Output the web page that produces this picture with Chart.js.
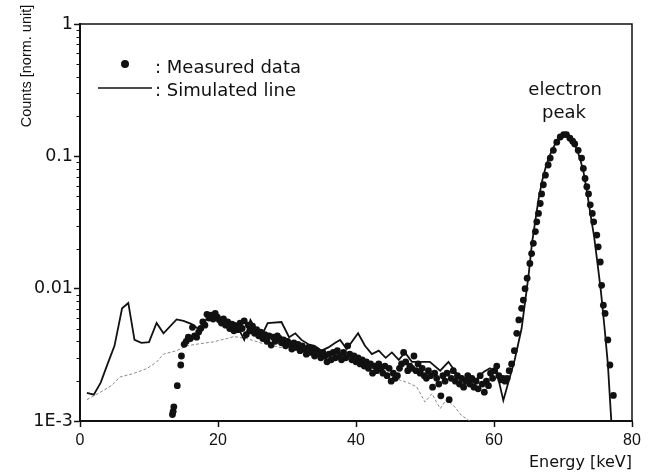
<!DOCTYPE html>
<html>
<head>
<meta charset="utf-8">
<script src="https://cdn.jsdelivr.net/npm/chart.js@4.4.1/dist/chart.umd.min.js"></script>
<style>
html,body{margin:0;padding:0;background:#fff;}
canvas{display:block;}
</style>
</head>
<body>
<canvas id="c" width="648" height="472"></canvas>
<script>
// ---- data ----
const measuredEnergy = [
13.4,13.5,13.6,14.1,14.6,14.7,15.1,15.4,15.7,16.0,16.3,16.6,16.9,17.2,17.5,17.8,18.1,18.4,18.7,19.0,
19.3,19.6,19.9,20.2,20.5,20.8,21.1,21.4,21.7,22.0,22.3,22.6,22.9,23.2,23.5,23.8,24.1,24.4,24.7,25.0,
25.3,25.6,25.9,26.2,26.5,26.8,27.1,27.4,27.7,28.0,28.3,28.6,28.9,29.2,29.5,29.8,30.1,30.4,30.7,31.0,
31.3,31.6,31.9,32.2,32.5,32.8,33.1,33.4,33.7,34.0,34.3,34.6,34.9,35.2,35.5,35.8,36.1,36.4,36.7,37.0,
37.3,37.6,37.9,38.2,38.5,38.8,39.1,39.4,39.7,40.0,40.3,40.6,40.9,41.2,41.5,41.8,42.1,42.4,42.7,43.0,
43.3,43.6,43.9,44.2,44.5,44.8,45.1,45.4,45.7,46.0,46.3,46.6,46.9,47.2,47.5,47.8,48.1,48.4,48.7,49.0,
49.3,49.6,49.9,50.2,50.5,50.8,51.1,51.4,51.7,52.0,52.3,52.6,52.9,53.2,53.5,53.8,54.1,54.4,54.7,55.0,
55.3,55.6,55.9,56.2,56.5,56.8,57.1,57.4,57.7,58.0,58.3,58.6,58.9,59.2,59.5,59.8,60.1,60.4,60.7,61.0,
61.3,61.6,61.9,62.2,62.55,62.95,63.3,63.6,64.0,64.25,64.5,64.8,65.2,65.45,65.7,66.0,66.2,66.45,66.7,66.9,
67.15,67.45,67.85,68.15,68.6,69.1,69.6,70.1,70.5,71.0,71.4,71.7,72.2,72.7,72.95,73.2,73.45,73.7,73.95,74.25,
74.45,74.9,75.1,75.4,75.6,75.85,76.1,76.5,76.8,77.3
];
const measuredCounts = [
1.12e-3,1.18e-3,1.28e-3,1.85e-3,2.65e-3,3.1e-3,3.8e-3,4.0e-3,4.3e-3,4.2e-3,5.1e-3,4.4e-3,4.3e-3,4.7e-3,5.0e-3,5.6e-3,5.3e-3,6.4e-3,6.0e-3,6.3e-3,
5.9e-3,6.5e-3,6.1e-3,5.8e-3,5.5e-3,5.9e-3,5.3e-3,5.6e-3,5.0e-3,5.4e-3,4.8e-3,5.2e-3,4.9e-3,5.5e-3,5.0e-3,5.7e-3,4.5e-3,5.3e-3,4.8e-3,5.2e-3,
4.6e-3,4.9e-3,4.4e-3,4.7e-3,4.2e-3,4.5e-3,4.0e-3,4.4e-3,3.75e-3,4.3e-3,4.0e-3,4.4e-3,4.2e-3,3.9e-3,4.1e-3,3.7e-3,4.0e-3,3.8e-3,3.5e-3,3.9e-3,
3.6e-3,3.8e-3,3.4e-3,3.7e-3,3.5e-3,3.2e-3,3.6e-3,3.3e-3,3.5e-3,3.1e-3,3.4e-3,3.2e-3,3.0e-3,3.3e-3,3.1e-3,2.8e-3,3.2e-3,2.9e-3,3.3e-3,3.0e-3,
3.4e-3,3.1e-3,2.9e-3,3.3e-3,3.0e-3,3.7e-3,3.2e-3,2.9e-3,3.1e-3,2.8e-3,3.0e-3,2.7e-3,2.9e-3,2.6e-3,2.8e-3,2.5e-3,2.7e-3,2.3e-3,2.6e-3,2.4e-3,
2.7e-3,2.5e-3,2.3e-3,2.6e-3,2.2e-3,2.5e-3,2.0e-3,2.3e-3,2.1e-3,2.2e-3,2.5e-3,2.7e-3,3.3e-3,2.8e-3,2.4e-3,2.6e-3,2.5e-3,3.1e-3,2.4e-3,2.7e-3,
2.3e-3,2.5e-3,2.2e-3,2.1e-3,2.4e-3,2.2e-3,1.8e-3,2.3e-3,2.1e-3,1.9e-3,1.55e-3,2.2e-3,2.0e-3,2.3e-3,1.45e-3,2.1e-3,2.4e-3,2.0e-3,2.2e-3,1.9e-3,
2.1e-3,1.8e-3,2.0e-3,2.2e-3,1.9e-3,2.1e-3,1.8e-3,2.0e-3,1.75e-3,2.2e-3,1.9e-3,1.65e-3,2.0e-3,1.85e-3,2.3e-3,2.1e-3,2.4e-3,2.6e-3,2.2e-3,2.05e-3,
2.1e-3,2.0e-3,2.1e-3,2.4e-3,2.7e-3,3.4e-3,4.6e-3,5.8e-3,7.1e-3,8.2e-3,1.0e-2,1.2e-2,1.55e-2,1.84e-2,2.2e-2,2.7e-2,3.2e-2,3.7e-2,4.4e-2,5.2e-2,
6.1e-2,7.2e-2,8.6e-2,9.7e-2,0.111,0.128,0.140,0.146,0.146,0.137,0.130,0.124,0.111,0.097,0.081,0.068,0.059,0.052,0.043,0.037,
0.032,0.0254,0.0207,0.0159,0.0106,7.5e-3,6.5e-3,4.1e-3,2.65e-3,1.56e-3
];
const simulatedEnergy = [
1.0,2.0,3.0,4.0,5.0,6.1,7.0,7.9,8.9,10.0,11.1,12.1,14.0,15.0,16.2,17.4,18.6,19.6,20.6,21.6,
22.6,23.8,24.7,25.6,26.4,27.2,29.2,30.3,31.2,32.1,33.1,34.0,35.0,36.0,37.0,37.7,38.65,40.3,41.3,42.3,
43.3,44.3,45.2,46.2,47.1,48.1,49.3,50.7,52.2,53.4,54.8,55.8,56.8,57.6,58.5,59.4,60.4,61.35,62.3,63.0,
64.0,65.0,65.5,66.0,66.5,67.0,67.5,68.0,68.5,69.0,69.5,70.0,70.5,71.0,71.5,72.0,72.5,73.0,73.5,74.0,
74.5,75.0,75.5,76.0,76.5,77.0,77.1
];
const simulatedCounts = [
1.63e-3,1.58e-3,1.95e-3,2.7e-3,3.7e-3,7.1e-3,7.8e-3,4.1e-3,3.9e-3,3.95e-3,5.5e-3,4.6e-3,5.85e-3,5.7e-3,5.4e-3,4.85e-3,6.2e-3,5.9e-3,5.8e-3,5.6e-3,
5.5e-3,4.1e-3,5.8e-3,4.8e-3,4.5e-3,5.5e-3,5.6e-3,4.3e-3,4.6e-3,4.1e-3,3.8e-3,3.7e-3,3.4e-3,3.6e-3,3.9e-3,4.1e-3,3.5e-3,4.6e-3,3.7e-3,3.2e-3,
3.4e-3,3.0e-3,3.3e-3,2.9e-3,3.3e-3,2.8e-3,2.8e-3,2.8e-3,2.4e-3,2.8e-3,2.2e-3,2.1e-3,2.0e-3,2.1e-3,2.35e-3,2.5e-3,2.35e-3,1.43e-3,2.15e-3,2.9e-3,
5.0e-3,1.25e-2,2.2e-2,3.3e-2,4.9e-2,6.6e-2,8.3e-2,0.099,0.114,0.128,0.138,0.145,0.146,0.140,0.128,0.113,0.095,0.075,0.053,0.036,
0.025,0.0155,0.0095,0.0052,0.0027,0.001,0.0008
];
const componentEnergy = [
1.0,2.0,3.4,4.6,5.8,7.7,9.7,11.1,12.1,14.0,15.5,17.4,19.3,21.3,22.3,24.2,26.1,28.0,30.0,32.0,
34.0,36.0,38.0,39.6,41.0,43.0,45.0,46.4,47.5,48.8,50.0,51.0,52.2,53.1,54.3,55.3,56.3,56.8
];
const componentCounts = [
1.45e-3,1.55e-3,1.7e-3,1.86e-3,2.15e-3,2.28e-3,2.49e-3,2.79e-3,3.2e-3,3.4e-3,3.7e-3,3.84e-3,3.96e-3,4.2e-3,4.35e-3,4.2e-3,3.9e-3,3.7e-3,3.5e-3,3.4e-3,
3.2e-3,3.1e-3,3.0e-3,2.88e-3,2.7e-3,2.5e-3,2.25e-3,2.03e-3,1.95e-3,1.81e-3,1.39e-3,1.61e-3,1.24e-3,1.45e-3,1.28e-3,1.1e-3,1.02e-3,0.95e-3
];
const xTickValues = [0, 20, 40, 60, 80];
const yTickValues = [0.001, 0.01, 0.1, 1];
const yTickLabels = ['1E-3', '0.01', '0.1', '1'];
const yMinorValues = [];
[0.001, 0.01, 0.1].forEach(d => { for (let k = 2; k <= 9; k++) yMinorValues.push(k * d); });
const legendLabels = [': Measured data', ': Simulated line'];
const xTitle = 'Energy [keV]';
const yTitle = 'Counts [norm. unit]';
const peakLabel = ['electron', 'peak'];
const peakEnergy = 70.3;

const toXY = (xs, ys) => xs.map((x, i) => ({x: x, y: ys[i]}));

const INK = '#111111';

const decor = {
  id: 'decor',
  afterDraw(chart) {
    const ctx = chart.ctx;
    const a = chart.chartArea;
    const ys = chart.scales.y;
    const xs = chart.scales.x;
    ctx.save();
    // frame (top & right)
    ctx.strokeStyle = INK;
    ctx.lineWidth = 1.5;
    ctx.beginPath();
    ctx.moveTo(a.left, a.top);
    ctx.lineTo(a.right, a.top);
    ctx.lineTo(a.right, a.bottom);
    ctx.stroke();
    // minor y ticks
    ctx.lineWidth = 1;
    ctx.beginPath();
    yMinorValues.forEach(v => {
      const py = Math.round(ys.getPixelForValue(v)) + 0.5;
      ctx.moveTo(a.left - 3.5, py);
      ctx.lineTo(a.left, py);
    });
    ctx.stroke();
    // y title
    ctx.fillStyle = INK;
    ctx.font = '14.5px "Liberation Sans", Arial, sans-serif';
    ctx.translate(27, 66);
    ctx.rotate(-Math.PI / 2);
    ctx.textAlign = 'center';
    ctx.textBaseline = 'middle';
    ctx.fillText(yTitle, 0, 0);
    ctx.setTransform(1, 0, 0, 1, 0, 0);
    // legend
    ctx.font = '18px "DejaVu Sans", sans-serif';
    ctx.textAlign = 'left';
    ctx.textBaseline = 'alphabetic';
    ctx.beginPath();
    ctx.arc(125, 64, 4, 0, Math.PI * 2);
    ctx.fill();
    ctx.fillText(legendLabels[0], 155, 72.5);
    ctx.lineWidth = 1.5;
    ctx.beginPath();
    ctx.moveTo(98, 88);
    ctx.lineTo(152, 88);
    ctx.stroke();
    ctx.fillText(legendLabels[1], 155, 95.5);
    // peak annotation
    const px = xs.getPixelForValue(peakEnergy);
    ctx.textAlign = 'center';
    ctx.fillText(peakLabel[0], px, 95);
    ctx.fillText(peakLabel[1], px - 1, 118);
    ctx.restore();
  }
};

new Chart(document.getElementById('c'), {
  type: 'scatter',
  data: {
    datasets: [
      {
        label: 'measured',
        data: toXY(measuredEnergy, measuredCounts),
        showLine: false,
        pointRadius: 3.4,
        pointBackgroundColor: INK,
        pointBorderWidth: 0,
        order: 0
      },
      {
        label: 'simulated',
        data: toXY(simulatedEnergy, simulatedCounts),
        showLine: true,
        borderColor: INK,
        borderWidth: 1.8,
        pointRadius: 0,
        tension: 0,
        order: 1
      },
      {
        label: 'component',
        data: toXY(componentEnergy, componentCounts),
        showLine: true,
        borderColor: '#8a8a8a',
        borderWidth: 1,
        borderDash: [3, 2],
        pointRadius: 0,
        tension: 0,
        order: 2
      }
    ]
  },
  options: {
    responsive: false,
    devicePixelRatio: 1,
    animation: false,
    layout: {padding: {top: 24, right: 16, left: 0, bottom: 0}},
    plugins: {legend: {display: false}, tooltip: {enabled: false}},
    scales: {
      x: {
        type: 'linear',
        min: 0,
        max: 80,
        afterBuildTicks: s => { s.ticks = xTickValues.map(v => ({value: v})); },
        afterFit: s => { s.height = 51; },
        grid: {drawOnChartArea: false, drawTicks: true, tickLength: 6, tickWidth: 1.5, tickColor: INK},
        border: {display: true, color: INK, width: 2},
        ticks: {
          color: INK,
          padding: 4,
          maxRotation: 0,
          font: {family: '"Liberation Sans", Arial, sans-serif', size: 16},
          callback: v => String(v)
        },
        title: {
          display: true,
          text: xTitle,
          align: 'end',
          color: INK,
          padding: {top: 0, bottom: 0},
          font: {family: '"DejaVu Sans", sans-serif', size: 16}
        }
      },
      y: {
        type: 'logarithmic',
        min: 0.001,
        max: 1,
        afterBuildTicks: s => { s.ticks = yTickValues.map(v => ({value: v, major: true})); },
        afterFit: s => { s.width = 80; },
        grid: {drawOnChartArea: false, drawTicks: true, tickLength: 6, tickWidth: 1.5, tickColor: INK},
        border: {display: true, color: INK, width: 2},
        ticks: {
          color: INK,
          padding: 1,
          font: {family: '"DejaVu Sans", sans-serif', size: 17.5},
          callback: (v) => {
            const i = yTickValues.findIndex(t => Math.abs(t - v) / t < 1e-6);
            return i >= 0 ? yTickLabels[i] : '';
          }
        }
      }
    }
  },
  plugins: [decor]
});
</script>
</body>
</html>
